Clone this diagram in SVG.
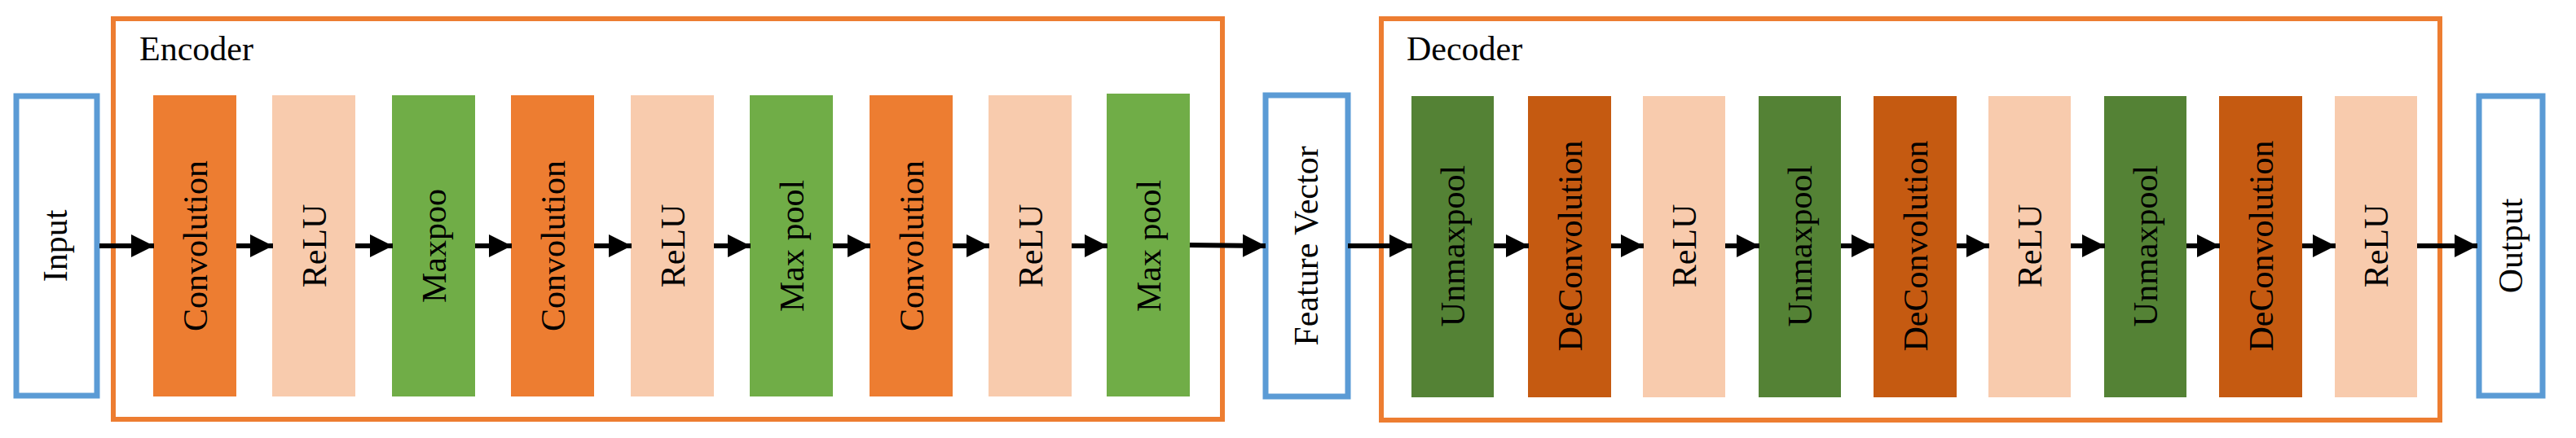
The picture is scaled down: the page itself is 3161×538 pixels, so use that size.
<svg xmlns="http://www.w3.org/2000/svg" width="3161" height="538" viewBox="0 0 3161 538">
<style>
text{font-family:"Liberation Serif","Times New Roman",serif;font-size:42px;fill:#000}
.io{fill:#fff;stroke:#5B9BD5;stroke-width:7}
.grp{fill:none;stroke:#ED7D31;stroke-width:6}
.conv{fill:#ED7D31}.relu{fill:#F8CBAD}.pool{fill:#70AD47}.unp{fill:#548235}.dec{fill:#C55A11}
.c line{stroke:#000;stroke-width:6;marker-end:url(#a)}
</style>
<defs><marker id="a" markerUnits="userSpaceOnUse" markerWidth="28" markerHeight="28" refX="28" refY="14" orient="auto"><path d="M0,0L28,14L0,28z" fill="#000"/></marker></defs>
<g id="encoder"><rect class="grp" x="139" y="23" width="1361" height="492"/><text x="171" y="74">Encoder</text></g>
<g id="decoder"><rect class="grp" x="1695" y="23" width="1299" height="493"/><text x="1726" y="74">Decoder</text></g>
<g id="input"><rect class="io" x="20" y="118" width="99" height="368"/><text transform="translate(82,302) rotate(-90)" text-anchor="middle">Input</text></g>
<g id="e1"><rect class="conv" x="188" y="117" width="102" height="370"/><text transform="translate(254,302) rotate(-90)" text-anchor="middle">Convolution</text></g>
<g id="e2"><rect class="relu" x="334" y="117" width="102" height="370"/><text transform="translate(400,302) rotate(-90)" text-anchor="middle">ReLU</text></g>
<g id="e3"><rect class="pool" x="481" y="117" width="102" height="370"/><text transform="translate(547,302) rotate(-90)" text-anchor="middle">Maxpoo</text></g>
<g id="e4"><rect class="conv" x="627" y="117" width="102" height="370"/><text transform="translate(693,302) rotate(-90)" text-anchor="middle">Convolution</text></g>
<g id="e5"><rect class="relu" x="774" y="117" width="102" height="370"/><text transform="translate(840,302) rotate(-90)" text-anchor="middle">ReLU</text></g>
<g id="e6"><rect class="pool" x="920" y="117" width="102" height="370"/><text transform="translate(986,302) rotate(-90)" text-anchor="middle">Max pool</text></g>
<g id="e7"><rect class="conv" x="1067" y="117" width="102" height="370"/><text transform="translate(1133,302) rotate(-90)" text-anchor="middle">Convolution</text></g>
<g id="e8"><rect class="relu" x="1213" y="117" width="102" height="370"/><text transform="translate(1279,302) rotate(-90)" text-anchor="middle">ReLU</text></g>
<g id="e9"><rect class="pool" x="1358" y="115" width="102" height="372"/><text transform="translate(1424,302) rotate(-90)" text-anchor="middle">Max pool</text></g>
<g id="fv"><rect class="io" x="1553" y="117" width="101" height="370"/><text transform="translate(1617,302) rotate(-90)" text-anchor="middle">Feature Vector</text></g>
<g id="d1"><rect class="unp" x="1732" y="118" width="101" height="370"/><text transform="translate(1797,302) rotate(-90)" text-anchor="middle">Unmaxpool</text></g>
<g id="d2"><rect class="dec" x="1875" y="118" width="102" height="370"/><text transform="translate(1941,302) rotate(-90)" text-anchor="middle">DeConvolution</text></g>
<g id="d3"><rect class="relu" x="2016" y="118" width="101" height="370"/><text transform="translate(2081,302) rotate(-90)" text-anchor="middle">ReLU</text></g>
<g id="d4"><rect class="unp" x="2158" y="118" width="101" height="370"/><text transform="translate(2223,302) rotate(-90)" text-anchor="middle">Unmaxpool</text></g>
<g id="d5"><rect class="dec" x="2299" y="118" width="102" height="370"/><text transform="translate(2365,302) rotate(-90)" text-anchor="middle">DeConvolution</text></g>
<g id="d6"><rect class="relu" x="2440" y="118" width="101" height="370"/><text transform="translate(2505,302) rotate(-90)" text-anchor="middle">ReLU</text></g>
<g id="d7"><rect class="unp" x="2582" y="118" width="101" height="370"/><text transform="translate(2647,302) rotate(-90)" text-anchor="middle">Unmaxpool</text></g>
<g id="d8"><rect class="dec" x="2723" y="118" width="102" height="370"/><text transform="translate(2789,302) rotate(-90)" text-anchor="middle">DeConvolution</text></g>
<g id="d9"><rect class="relu" x="2865" y="118" width="101" height="370"/><text transform="translate(2930,302) rotate(-90)" text-anchor="middle">ReLU</text></g>
<g id="output"><rect class="io" x="3042" y="118" width="78" height="368"/><text transform="translate(3095,302) rotate(-90)" text-anchor="middle">Output</text></g>
<g class="c" id="connectors">
<line x1="122" y1="302" x2="189" y2="302"/>
<line x1="290" y1="302" x2="335" y2="302"/>
<line x1="436" y1="302" x2="482" y2="302"/>
<line x1="583" y1="302" x2="628" y2="302"/>
<line x1="729" y1="302" x2="775" y2="302"/>
<line x1="876" y1="302" x2="921" y2="302"/>
<line x1="1022" y1="302" x2="1068" y2="302"/>
<line x1="1169" y1="302" x2="1214" y2="302"/>
<line x1="1315" y1="302" x2="1359" y2="302"/>
<line x1="1460" y1="301" x2="1553" y2="302"/>
<line x1="1654" y1="302" x2="1733" y2="302"/>
<line x1="1833" y1="302" x2="1876" y2="302"/>
<line x1="1977" y1="302" x2="2017" y2="302"/>
<line x1="2117" y1="302" x2="2159" y2="302"/>
<line x1="2259" y1="302" x2="2300" y2="302"/>
<line x1="2401" y1="302" x2="2441" y2="302"/>
<line x1="2541" y1="302" x2="2583" y2="302"/>
<line x1="2683" y1="302" x2="2724" y2="302"/>
<line x1="2825" y1="302" x2="2866" y2="302"/>
<line x1="2966" y1="302" x2="3040" y2="302"/>
</g>
</svg>
